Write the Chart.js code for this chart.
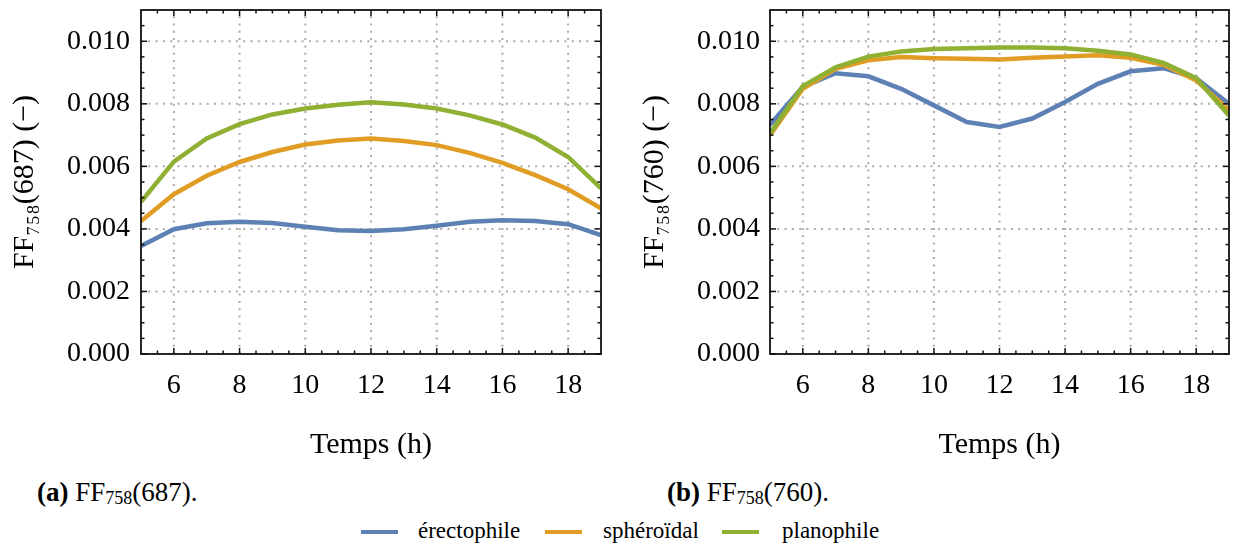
<!DOCTYPE html>
<html>
<head>
<meta charset="utf-8">
<script src="https://cdn.jsdelivr.net/npm/chart.js@4/dist/chart.umd.min.js"></script>
<style>
  html, body { margin: 0; padding: 0; background: #fff; }
  body { width: 1233px; height: 546px; position: relative; overflow: hidden; font-family: "Liberation Serif", "DejaVu Serif", serif; color: #000; }
  canvas { position: absolute; top: 0; }
  #c1 { left: 0; }
  #c2 { left: 620px; }
  .cap { position: absolute; top: 479px; font-size: 27px; line-height: 27px; white-space: nowrap; }
  .cap b { font-weight: bold; }
  .sub { font-size: 18px; position: relative; top: 3px; }
  .leg { position: absolute; top: 519px; font-size: 23px; line-height: 23px; white-space: nowrap; }
  .sw { position: absolute; top: 530px; height: 3.5px; width: 37px; }
</style>
</head>
<body>
<canvas id="c1" width="620" height="470"></canvas>
<canvas id="c2" width="613" height="470"></canvas>

<div class="cap" style="left:37px"><b>(a)</b> FF<span class="sub">758</span>(687).</div>
<div class="cap" style="left:667px"><b>(b)</b> FF<span class="sub">758</span>(760).</div>

<div class="sw" style="left:361px;background:#5E81B5"></div>
<div class="leg" style="left:418px">érectophile</div>
<div class="sw" style="left:545px;background:#E19C24"></div>
<div class="leg" style="left:603px">sphéroïdal</div>
<div class="sw" style="left:722px;background:#8FB032"></div>
<div class="leg" style="left:782px">planophile</div>

<script>
// ---------- DATA ----------
const hours = [5, 6, 7, 8, 9, 10, 11, 12, 13, 14, 15, 16, 17, 18, 19];

const seriesNames = ['érectophile', 'sphéroïdal', 'planophile'];
const seriesColors = ['#5E81B5', '#E19C24', '#8FB032'];

// (a) FF758(687)
const erectophile687 = [0.00345, 0.00399, 0.00418, 0.00423, 0.00419, 0.00407, 0.00396, 0.00393, 0.00399, 0.00410, 0.00423, 0.00428, 0.00425, 0.00415, 0.00380];
const spheroidal687  = [0.00425, 0.00511, 0.00570, 0.00614, 0.00646, 0.00670, 0.00683, 0.00689, 0.00681, 0.00668, 0.00643, 0.00611, 0.00572, 0.00527, 0.00466];
const planophile687  = [0.00487, 0.00615, 0.00689, 0.00735, 0.00766, 0.00785, 0.00797, 0.00805, 0.00798, 0.00785, 0.00763, 0.00734, 0.00692, 0.00630, 0.00530];

// (b) FF758(760)
const erectophile760 = [0.00733, 0.00854, 0.00898, 0.00888, 0.00848, 0.00795, 0.00742, 0.00726, 0.00753, 0.00806, 0.00864, 0.00904, 0.00914, 0.00882, 0.00800];
const spheroidal760  = [0.00700, 0.00848, 0.00912, 0.00939, 0.00950, 0.00946, 0.00944, 0.00942, 0.00947, 0.00951, 0.00955, 0.00947, 0.00925, 0.00875, 0.00779];
const planophile760  = [0.00705, 0.00856, 0.00917, 0.00951, 0.00967, 0.00975, 0.00978, 0.00980, 0.00980, 0.00978, 0.00970, 0.00958, 0.00931, 0.00882, 0.00763];

// tick labels
const xTickValues = [6, 8, 10, 12, 14, 16, 18];
const yTickValues = [0, 0.002, 0.004, 0.006, 0.008, 0.010];
const xTitle = 'Temps (h)';
const yTitleA = 'FF₇₅₈(687) (−)';
const yTitleB = 'FF₇₅₈(760) (−)';

// ---------- DRAWING ----------
const X_MIN = 5, X_MAX = 19, Y_MIN = 0, Y_MAX = 0.011;
const xMinor = []; for (let v = X_MIN + 0.5; v < X_MAX; v += 0.5) if (!xTickValues.includes(v)) xMinor.push(v);
const yMinor = []; for (let k = 1; k * 0.0005 < Y_MAX; k++) { const v = +(k * 0.0005).toFixed(4); if (!yTickValues.some(t => Math.abs(t - v) < 1e-9)) yMinor.push(v); }

const FONT = { family: '"Liberation Serif", "DejaVu Serif", serif', size: 28 };
const TFONT = { family: '"Liberation Serif", "DejaVu Serif", serif', size: 30 };

const axisDecor = {
  id: 'axisDecor',
  beforeDatasetsDraw(chart) {
    const { ctx, chartArea: a, scales: { x, y } } = chart;
    ctx.save();
    ctx.strokeStyle = '#ababab';
    ctx.lineWidth = 2;
    ctx.setLineDash([2, 5.3]);
    xTickValues.forEach(v => {
      const px = x.getPixelForValue(v);
      ctx.beginPath(); ctx.moveTo(px, a.bottom); ctx.lineTo(px, a.top); ctx.stroke();
    });
    yTickValues.forEach(v => {
      if (v === 0) return;
      const py = y.getPixelForValue(v);
      ctx.beginPath(); ctx.moveTo(a.left, py); ctx.lineTo(a.right, py); ctx.stroke();
    });
    ctx.restore();
  },
  afterDatasetsDraw(chart) {
    const { ctx, chartArea: a, scales: { x, y } } = chart;
    ctx.save();
    ctx.strokeStyle = '#111';
    ctx.lineWidth = 1.5;
    const tick = (x1, y1, x2, y2) => { ctx.beginPath(); ctx.moveTo(x1, y1); ctx.lineTo(x2, y2); ctx.stroke(); };
    const MAJ = 6, MIN = 3.5;
    xTickValues.forEach(v => { const p = x.getPixelForValue(v); tick(p, a.bottom, p, a.bottom - MAJ); tick(p, a.top, p, a.top + MAJ); });
    xMinor.forEach(v => { const p = x.getPixelForValue(v); tick(p, a.bottom, p, a.bottom - MIN); tick(p, a.top, p, a.top + MIN); });
    yTickValues.forEach(v => { const p = y.getPixelForValue(v); tick(a.left, p, a.left + MAJ, p); tick(a.right, p, a.right - MAJ, p); });
    yMinor.forEach(v => { const p = y.getPixelForValue(v); tick(a.left, p, a.left + MIN, p); tick(a.right, p, a.right - MIN, p); });
    ctx.lineWidth = 1.8;
    ctx.strokeRect(a.left, a.top, a.right - a.left, a.bottom - a.top);
    ctx.restore();
  }
};

function makeChart(id, seriesList, yTitle, o) {
  const datasets = seriesList.map((vals, i) => ({
    label: seriesNames[i],
    data: hours.map((h, k) => ({ x: h, y: vals[k] })),
    borderColor: seriesColors[i],
    backgroundColor: seriesColors[i],
    borderWidth: 4.5,
    pointRadius: 0,
    tension: 0,
    fill: false,
    order: seriesList.length - i
  }));
  return new Chart(document.getElementById(id), {
    type: 'line',
    data: { datasets },
    plugins: [axisDecor],
    options: {
      responsive: false,
      animation: false,
      events: [],
      layout: { padding: { top: 10, right: o.padRight, bottom: 0, left: 0 } },
      plugins: { legend: { display: false }, tooltip: { enabled: false } },
      scales: {
        x: {
          type: 'linear', min: X_MIN, max: X_MAX,
          afterBuildTicks: s => { s.ticks = xTickValues.map(v => ({ value: v })); },
          afterFit: s => { s.height = 116; s.paddingLeft = 0; s.paddingRight = 0; s.paddingTop = 0; s.paddingBottom = 0; },
          grid: { display: false, drawTicks: false },
          border: { display: false },
          ticks: { color: '#000', font: FONT, padding: 15, maxRotation: 0, autoSkip: false, callback: v => String(v) },
          title: { display: true, text: xTitle, color: '#000', font: TFONT, padding: { top: 0, bottom: 7 } }
        },
        y: {
          type: 'linear', min: Y_MIN, max: Y_MAX,
          afterBuildTicks: s => { s.ticks = yTickValues.map(v => ({ value: v })); },
          afterFit: s => { s.width = o.yWidth; s.paddingLeft = 0; s.paddingRight = 0; s.paddingTop = 0; s.paddingBottom = 0; },
          grid: { display: false, drawTicks: false },
          border: { display: false },
          ticks: { color: '#000', font: FONT, padding: o.yTickPad, autoSkip: false, callback: v => Number(v).toFixed(3) },
          title: { display: true, text: yTitle, color: '#000', font: TFONT, padding: { top: o.yTitlePad, bottom: 0 } }
        }
      }
    }
  });
}

makeChart('c1', [erectophile687, spheroidal687, planophile687], yTitleA, { padRight: 19, yWidth: 141, yTickPad: 11, yTitlePad: 7 });
makeChart('c2', [erectophile760, spheroidal760, planophile760], yTitleB, { padRight: 4, yWidth: 150, yTickPad: 10, yTitlePad: 17 });
</script>
</body>
</html>
